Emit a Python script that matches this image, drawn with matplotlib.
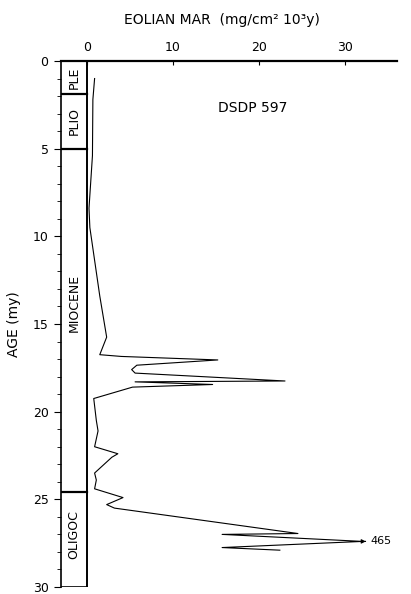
import matplotlib
matplotlib.use("Agg")
import matplotlib.pyplot as plt
import numpy as np
from matplotlib.ticker import MultipleLocator

# age (my) and eolian mass accumulation rate (mg/cm2 10^3 y), DSDP 597
ages = [1.0, 2.2, 5.4, 8.4, 9.5, 13.4, 15.75, 16.75, 16.85, 17.05, 17.35, 17.6,
        17.8, 18.25, 18.3, 18.45, 18.6, 19.25, 20.5, 21.1, 22.0, 22.4, 22.6,
        23.5, 23.9, 24.4, 24.9, 25.3, 25.5, 26.95, 27.0, 27.4, 27.75, 27.9]
mar = [0.9, 0.7, 0.65, 0.25, 0.35, 1.5, 2.3, 1.5, 4.0, 15.2, 5.8, 5.2,
       5.6, 23.0, 5.6, 14.6, 5.3, 0.8, 1.1, 1.3, 0.9, 3.6, 2.9,
       0.9, 1.1, 0.9, 4.2, 2.3, 3.2, 24.5, 15.7, 46.5, 15.7, 22.4]

# epoch column: boundaries (my) and names
epoch_bounds = [0, 1.9, 5.0, 24.6, 30]
epoch_names = ["PLE", "PLIO", "MIOCENE", "OLIGOC"]
epoch_label_age = [0.95, 3.4, 13.8, 27.0]

x_ticks = [0, 10, 20, 30]
clip_at = 32.0

fig = plt.figure(figsize=(4.11, 5.94), dpi=100)
ax = fig.add_axes([61 / 411, 7 / 594, 336 / 411, 526 / 594])
ax.set_xlim(-3, 36)
ax.set_ylim(30, 0)

for s in ["right", "bottom"]:
    ax.spines[s].set_visible(False)
ax.spines["left"].set_linewidth(1.2)
ax.spines["top"].set_linewidth(1.6)

# curve, with the off-scale value cut at the edge
disp = np.minimum(mar, clip_at)
ax.plot(disp, ages, color="black", lw=0.8)
i_max = int(np.argmax(mar))
ax.annotate("", xy=(clip_at + 0.7, ages[i_max]), xytext=(clip_at, ages[i_max]),
            arrowprops=dict(arrowstyle="-|>", color="black", lw=0.8,
                            mutation_scale=6))
ax.text(clip_at + 0.9, ages[i_max], f"{mar[i_max]:.1f}".replace(".", ""),
        fontsize=8, va="center", ha="left")

# epoch column
ax.plot([0, 0], [0, 30], color="black", lw=1.4)
ax.plot([-3, 0], [30, 30], color="black", lw=1.2)
for b in epoch_bounds[1:-1]:
    ax.plot([-3, 0], [b, b], color="black", lw=1.6)
for name, a in zip(epoch_names, epoch_label_age):
    ax.text(-1.5, a, name, rotation=90, ha="center", va="center", fontsize=9)

ax.text(19.3, 2.7, "DSDP 597", fontsize=10, ha="center", va="center")

# axes ticks
ax.xaxis.tick_top()
ax.set_xticks(x_ticks)
ax.tick_params(axis="x", direction="in", length=3, labelsize=9, pad=5)
ax.yaxis.set_major_locator(MultipleLocator(5))
ax.yaxis.set_minor_locator(MultipleLocator(1))
ax.tick_params(axis="y", which="major", direction="out", length=5, labelsize=9, pad=4)
ax.tick_params(axis="y", which="minor", direction="out", length=3)

fig.text(222 / 411, 1 - 20 / 594, "EOLIAN MAR  (mg/cm² 10³y)",
         ha="center", va="center", fontsize=10)
fig.text(14 / 411, 1 - 324 / 594, "AGE (my)", rotation=90,
         ha="center", va="center", fontsize=10)

fig.savefig("out.png", dpi=100)
